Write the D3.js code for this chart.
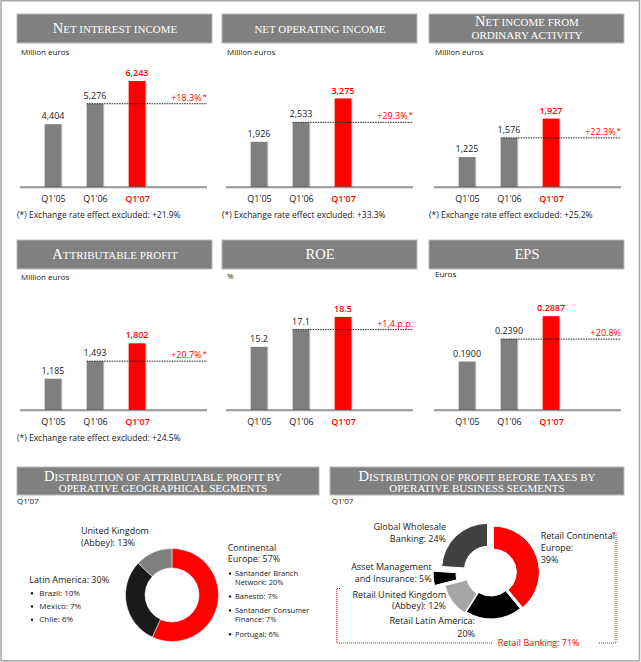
<!DOCTYPE html>
<html><head><meta charset="utf-8">
<script src="https://cdn.jsdelivr.net/npm/d3@7"></script>
<style>
body{margin:0;background:#fff}
svg{display:block}
text{font-family:"Open Sans",sans-serif}
</style></head><body>
<svg id="c" width="641" height="662"></svg>
<script>
// ---------------- DATA ----------------
const periods = ["Q1'05", "Q1'06", "Q1'07"];
const netInterestIncome = [4404, 5276, 6243];
const netOperatingIncome = [1926, 2533, 3275];
const netIncomeOrdinary = [1225, 1576, 1927];
const attributableProfit = [1185, 1493, 1802];
const roe = [15.2, 17.1, 18.5];
const eps = [0.1900, 0.2390, 0.2887];
const growthLabels = ["+18.3%", "+29.3%", "+22.3%", "+20.7%", "+1,4.p.p.", "+20.8%"];
const growthStar = [true, true, true, true, false, false];
const exRateExcluded = ["+21.9%", "+33.3%", "+25.2%", "+24.5%", null, null];
const units = ["Million euros", "Million euros", "Million euros", "Million euros", "%", "Euros"];
const panelTitles = [["Net interest income"], ["net operating income"], ["Net income from", "ordinary activity"],
                     ["Attributable profit"], ["ROE"], ["EPS"]];

const geoSegments = ["Continental Europe", "Latin America", "United Kingdom (Abbey)"];
const geoShares = [57, 30, 13];
const continentalDetail = [["Santander Branch", "Network", 20], ["Banesto", null, 7], ["Santander Consumer", "Finance", 7], ["Portugal", null, 6]];
const latamDetail = [["Brazil", 10], ["Mexico", 7], ["Chile", 6]];

const bizSegments = ["Retail Continental Europe", "Retail Latin America", "Retail United Kingdom (Abbey)", "Asset Management and Insurance", "Global Wholesale Banking"];
const bizShares = [39, 20, 12, 5, 24];
const retailBankingShare = 71;

// ---------------- LAYOUT / STYLE ----------------
const RED = "#ff0000", GRAY = "#7f7f7f", TXT = "#1a1a1a";
const svg = d3.select("#c");

svg.append("rect").attr("x", 1).attr("y", 0.75).attr("width", 638.5).attr("height", 660)
  .attr("fill", "none").attr("stroke", "#a6a6a6").attr("stroke-width", 1.5);

function drawTitle(cx, baselines, lines) {
  lines.forEach((line, i) => {
    const t = svg.append("text").attr("x", cx).attr("y", baselines[i]).attr("text-anchor", "middle")
      .attr("fill", "#fff").style("font-family", '"Liberation Serif", serif');
    const runs = [];
    for (const ch of line) {
      const big = ch !== ch.toLowerCase();
      if (runs.length && runs[runs.length - 1].big === big) runs[runs.length - 1].s += ch;
      else runs.push({ big, s: ch });
    }
    runs.forEach(r => t.append("tspan").attr("font-size", r.big ? 14.5 : 11).text(r.s.toUpperCase()));
  });
}
function titleBox(x, y, w, h) {
  svg.append("rect").attr("x", x).attr("y", y).attr("width", w).attr("height", h)
    .attr("fill", "#808080").attr("stroke", "#b8b8b8").attr("stroke-width", 1);
}

const panels = [
  { values: netInterestIncome, fmt: d3.format(","), floor: 1732, top: 106, unitDy: -132 },
  { values: netOperatingIncome, fmt: d3.format(","), floor: 520, top: 88.5, unitDy: -132 },
  { values: netIncomeOrdinary, fmt: d3.format(","), floor: 678, top: 68.3, unitDy: -132 },
  { values: attributableProfit, fmt: d3.format(","), floor: 641, top: 66.6, unitDy: -130 },
  { values: roe, fmt: d3.format(".1f"), floor: 8.25, top: 93.1, unitDy: -131 },
  { values: eps, fmt: d3.format(".4f"), floor: 0.0845, top: 93.7, unitDy: -133 }
];
const colAxisX = [20, 226, 434], colBoxX = [17, 222, 429];
const rowAxisY = [187, 410], rowBoxY = [14, 240];
const axisLen = 187, barW = 16.7;

panels.forEach((p, i) => {
  const col = i % 3, row = Math.floor(i / 3);
  const ax = colAxisX[col], ay = rowAxisY[row], bx = colBoxX[col], by = rowBoxY[row];
  titleBox(bx, by, 195, 29);
  const lines = panelTitles[i];
  const bl = lines.length === 1 ? [by + 19.3] : [by + 11.5, by + 24.8];
  drawTitle(bx + 98, bl, lines);

  svg.append("text").attr("x", ax + 1).attr("y", ay + p.unitDy).attr("font-size", 8).attr("fill", TXT).text(units[i]);

  const x = d3.scalePoint().domain(periods).range([ax + 33, ax + 117]);
  const y = d3.scaleLinear().domain([p.floor, d3.max(p.values)]).range([ay, ay - p.top]);
  const g = svg.append("g");
  g.selectAll(".sh").data(p.values).join("rect")
    .attr("x", (d, j) => x(periods[j]) - barW / 2 + 1).attr("width", barW)
    .attr("y", d => y(d)).attr("height", d => ay - y(d)).attr("fill", (d, j) => j === 2 ? "#ffb0b0" : "#cfcfcf");
  g.selectAll(".bar").data(p.values).join("rect")
    .attr("x", (d, j) => x(periods[j]) - barW / 2).attr("width", barW)
    .attr("y", d => y(d)).attr("height", d => ay - y(d)).attr("fill", (d, j) => j === 2 ? RED : GRAY);
  g.selectAll(".val").data(p.values).join("text")
    .attr("x", (d, j) => x(periods[j])).attr("y", d => y(d) - 5).attr("text-anchor", "middle")
    .attr("font-size", 9).attr("font-weight", (d, j) => j === 2 ? 600 : 400)
    .attr("fill", (d, j) => j === 2 ? RED : TXT).text(d => p.fmt(d));
  // axis
  const axis = d3.axisBottom(x).tickSize(0).tickPadding(6);
  const ag = svg.append("g").attr("transform", `translate(0,${ay})`).call(axis);
  ag.select(".domain").remove();
  svg.append("line").attr("x1", ax).attr("x2", ax + axisLen).attr("y1", ay + 1).attr("y2", ay + 1).attr("stroke", "#c8c8c8").attr("stroke-width", 1);
  svg.append("line").attr("x1", ax).attr("x2", ax + axisLen).attr("y1", ay).attr("y2", ay).attr("stroke", "#555").attr("stroke-width", 1.2);
  ag.selectAll(".tick text").attr("font-size", 9).style("font-family", '"Open Sans",sans-serif')
    .attr("fill", (d, j) => j === 2 ? RED : TXT).attr("font-weight", (d, j) => j === 2 ? 600 : 400)
    .attr("dy", null).attr("y", 14.5);
  // growth reference line
  const ly = y(p.values[1]);
  svg.append("line").attr("x1", x(periods[1]) - barW / 2).attr("x2", ax + axisLen).attr("y1", ly).attr("y2", ly)
    .attr("stroke", "#222").attr("stroke-width", 1).attr("stroke-dasharray", "1.5,1");
  const gt = svg.append("text").attr("x", ax + axisLen).attr("y", ly - 3).attr("text-anchor", "end")
    .attr("font-size", 9).attr("fill", RED).text(growthLabels[i]);
  if (growthStar[i]) gt.append("tspan").attr("font-size", 8).attr("dx", 1).attr("dy", -2).text("*");
  if (exRateExcluded[i]) {
    svg.append("text").attr("x", bx).attr("y", ay + 31).attr("font-size", 8.5).attr("fill", TXT)
      .text("(*) Exchange rate effect excluded: " + exRateExcluded[i]);
  }
});

// ---------------- DONUT 1 ----------------
titleBox(17, 467, 302, 28);
drawTitle(163, [480.5, 491.5], ["Distribution of attributable profit by", "operative geographical segments"]);
svg.append("text").attr("x", 17).attr("y", 504).attr("font-size", 8).attr("fill", TXT).text("Q1'07");

const pie = d3.pie().sort(null).value(d => d);
const c1 = { x: 172, y: 595 };
const arc1 = d3.arc().innerRadius(27).outerRadius(46.5);
svg.append("g").attr("transform", `translate(${c1.x},${c1.y})`)
  .selectAll("path").data(pie(geoShares)).join("path").attr("d", arc1)
  .attr("fill", (d, i) => [RED, "#1a1a1a", "#808080"][i]).attr("stroke", "#fff").attr("stroke-width", 0.5);

function label(x, y, lines, opts = {}) {
  const t = svg.append("text").attr("x", x).attr("y", y).attr("font-size", opts.size || 9)
    .attr("fill", opts.color || TXT).attr("text-anchor", opts.anchor || "start");
  lines.forEach((l, i) => t.append("tspan").attr("x", x).attr("dy", i ? (opts.lh || 12) : 0).text(l));
  return t;
}
label(81, 533.5, ["United Kingdom", "(Abbey): " + geoShares[2] + "%"]);
label(227.7, 550.5, ["Continental", "Europe: " + geoShares[0] + "%"], { lh: 11.5 });
label(29.3, 582.7, ["Latin America: " + geoShares[1] + "%"]);
const cdY = [576, 599, 613, 636.7];
continentalDetail.forEach((d, i) => {
  svg.append("circle").attr("cx", 230).attr("cy", cdY[i] - 2.5).attr("r", 1.2).attr("fill", TXT);
  label(235, cdY[i], d[1] ? [d[0], d[1] + ": " + d[2] + "%"] : [d[0] + ": " + d[2] + "%"], { size: 7.5, lh: 9 });
});
const ldY = [595.7, 609, 622.3];
latamDetail.forEach((d, i) => {
  svg.append("circle").attr("cx", 32).attr("cy", ldY[i] - 2.5).attr("r", 1.2).attr("fill", TXT);
  label(39.3, ldY[i], [d[0] + ": " + d[1] + "%"], { size: 8 });
});

// ---------------- DONUT 2 ----------------
titleBox(330, 467, 294, 28);
drawTitle(477, [480.5, 491.5], ["Distribution of profit before taxes by", "operative business segments"]);
svg.append("text").attr("x", 331.7).attr("y", 504).attr("font-size", 8).attr("fill", TXT).text("Q1'07");

const c2 = { x: 491, y: 573 };
const explode = [2.5, 0, 2, 12, 5];
const arc2 = d3.arc().innerRadius(23).outerRadius(46);
svg.append("g").attr("transform", `translate(${c2.x},${c2.y})`)
  .selectAll("path").data(pie(bizShares)).join("path").attr("d", arc2)
  .attr("transform", (d, i) => {
    const m = (d.startAngle + d.endAngle) / 2;
    return `translate(${explode[i] * Math.sin(m)},${-explode[i] * Math.cos(m)})`;
  })
  .attr("fill", (d, i) => [RED, "#000", "#a6a6a6", "#000", "#404040"][i]).attr("stroke", "#fff").attr("stroke-width", 1);

label(446, 530, ["Global Wholesale", "Banking: " + bizShares[4] + "%"], { anchor: "end" });
label(431.7, 570, ["Asset Management", "and Insurance: " + bizShares[3] + "%"], { anchor: "end", lh: 11.7 });
label(446, 597.7, ["Retail United Kingdom", "(Abbey): " + bizShares[2] + "%"], { anchor: "end", lh: 11.5 });
label(475, 624, ["Retail Latin America:", bizShares[1] + "%"], { anchor: "end", lh: 12.5 });
label(540.7, 539, ["Retail Continental", "Europe:", bizShares[0] + "%"], { lh: 12.2 });

svg.append("path").attr("d", "M340,588.5 H336.7 V643 H493 M599,643 H616 V533 H612")
  .attr("fill", "none").attr("stroke", RED).attr("stroke-width", 1).attr("stroke-dasharray", "1,1");
svg.append("text").attr("x", 497.7).attr("y", 645.7).attr("font-size", 9).attr("fill", RED)
  .text("Retail Banking: " + retailBankingShare + "%");
</script>
</body></html>
